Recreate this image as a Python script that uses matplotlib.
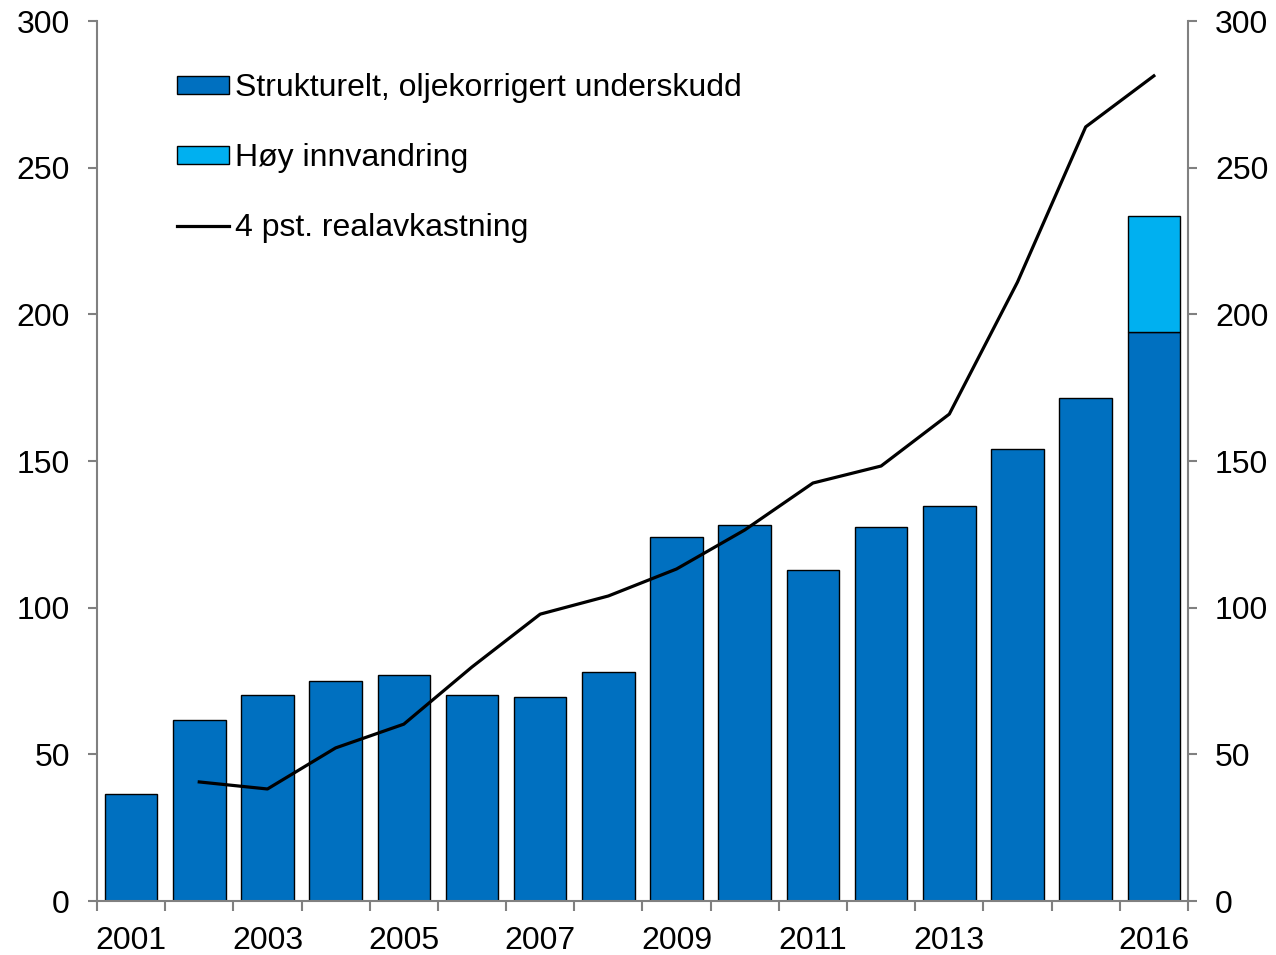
import matplotlib.pyplot as plt
import numpy as np

plt.rcParams['font.family'] = ['Liberation Sans', 'DejaVu Sans']

years = list(range(2001, 2017))
underskudd = [36.5, 61.7, 70.2, 75.0, 77.0, 70.2, 69.5, 78.0,
              124.1, 128.2, 112.8, 127.5, 134.7, 154.1, 171.5, 194.0]
innvandring = [0, 0, 0, 0, 0, 0, 0, 0, 0, 0, 0, 0, 0, 0, 0, 39.5]
line_years = list(range(2002, 2017))
realavkastning = [40.6, 38.2, 52.2, 60.3, 79.8, 97.8, 104.0, 113.2,
                  126.5, 142.5, 148.3, 166.0, 211.0, 263.9, 281.3]
tick_years = [2001, 2003, 2005, 2007, 2009, 2011, 2013, 2016]

grey = '#808080'
fig = plt.figure(figsize=(12.76, 9.55), dpi=100)
ax = fig.add_axes([0.076, 0.0565, 0.855, 0.9215])

x = np.arange(len(years))
b1 = ax.bar(x, underskudd, width=0.77, color='#0070C0', edgecolor='black', linewidth=1,
            label='Strukturelt, oljekorrigert underskudd', zorder=2)
b2 = ax.bar(x[-1:], innvandring[-1:], bottom=underskudd[-1:], width=0.77, color='#00B0F0',
            edgecolor='black', linewidth=1, label='Høy innvandring', zorder=2)
lx = [years.index(y) for y in line_years]
l1, = ax.plot(lx, realavkastning, color='black', linewidth=2.3, label='4 pst. realavkastning', zorder=3)

ax.set_xlim(-0.5, len(years) - 0.5)
ax.set_ylim(0, 300)
ax.set_yticks(range(0, 301, 50))
ax.set_xticks([years.index(y) for y in tick_years])
ax.set_xticklabels([str(y) for y in tick_years])
ax.set_xticks(np.arange(-0.5, len(years), 1), minor=True)
ax.tick_params(axis='x', which='major', length=0, labelsize=23, pad=18)
ax.tick_params(axis='x', which='minor', length=7, width=1.5, color=grey, direction='out')
ax.tick_params(axis='y', which='major', length=6.5, width=1.5, color=grey, labelsize=23,
               direction='out', left=True, right=True, labelright=True, pad=13)

ax.spines['top'].set_visible(False)
for s in ['left', 'right', 'bottom']:
    ax.spines[s].set_color(grey)
    ax.spines[s].set_linewidth(1.5)

ax.legend(handles=[b1, b2, l1], loc='upper left', bbox_to_anchor=(0.062, 0.955), frameon=False,
          fontsize=23, handlelength=1.6, handleheight=0.45, handletextpad=0.2,
          labelspacing=1.25, borderaxespad=0)

fig.savefig('out.png', dpi=100)
